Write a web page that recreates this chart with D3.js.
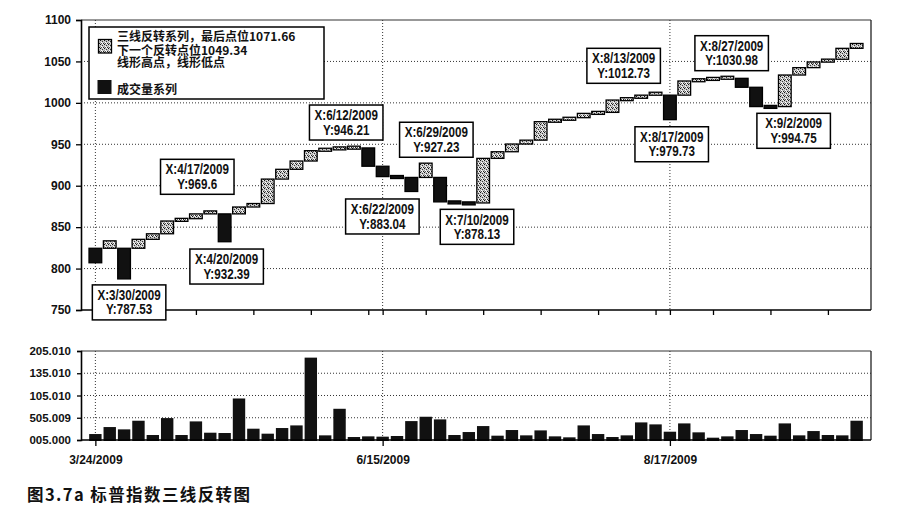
<!DOCTYPE html>
<html><head><meta charset="utf-8">
<script src="https://cdn.jsdelivr.net/npm/d3@7"></script>
<style>body{margin:0;background:#fff}svg{display:block}</style>
</head><body>
<svg id="c" width="899" height="511"></svg>
<script>
// ---------- data ----------
const lines = d3.range(54); // three-line-break line numbers (categories)
const opens = [824.5,824.5,824.5,824.5,835.3,842,857.4,860.2,866,866,
  866,874.3,878.5,908,919.8,929.8,942.3,944.5,945.6,945.6,
  923.5,911,910,910,910,880.5,879.2,879.2,933,941,
  950.3,955,977.3,979.5,982.1,987.3,988.5,1003.4,1005.5,1009.3,
  1009.3,1009.3,1026.4,1028.2,1029.6,1029.6,1018.8,995.5,995.5,1033.6,
  1042.5,1049.34,1052.6,1065.8];
const closes = [807,833.5,787.53,835.3,842,857.4,860.2,866,869.6,832.39,
  874.3,878.5,908,919.8,929.8,942.3,944.5,945.6,946.21,923.5,
  911,910,893.04,927.23,880.5,879.2,878.13,933,941,950.3,
  955,977.3,979.5,982.1,987.3,988.5,1003.4,1005.5,1009.3,1012.73,
  979.73,1026.4,1028.2,1029.6,1030.98,1018.8,995.5,994.75,1033.6,1042.5,
  1049.34,1052.6,1065.8,1071.66];
const volume = [18400,34100,28900,48300,16200,54250,16200,46800,21400,20700,
  98300,30400,19200,31900,37800,190100,15450,75150,11700,13200,
  12500,14000,47500,57250,51300,16200,22900,36300,14700,27400,
  15450,26600,13200,11000,37800,18400,11700,15450,44550,40100,
  23650,42300,22200,10200,13200,27400,18400,14700,42300,15450,
  25100,16200,15450,48300];
const priceTicks = [750,800,850,900,950,1000,1050,1100];
const volTickValues = [5000,55009,105010,155010,205010];
const volTickLabels = ['005.000','505.009','105.010','135.010','205.010'];
const dateTickIdx = [0,20,40];
const dateTickLabels = ['3/24/2009','6/15/2009','8/17/2009'];
const minorTickIdx = [0,3,7,11,15,19,20,23,27,31,35,39,40,43,47,51];
const calloutIdx = [2,8,9,18,22,23,26,39,40,44,47];
const calloutDates = ['3/30/2009','4/17/2009','4/20/2009','6/12/2009','6/22/2009','6/29/2009','7/10/2009','8/13/2009','8/17/2009','8/27/2009','9/2/2009'];
const calloutTexts = ['787.53','969.6','932.39','946.21','883.04','927.23','878.13','1012.73','979.73','1030.98','994.75'];
const legendLines = ['三线反转系列，最后点位1071.66','下一个反转点位1049.34','线形高点，线形低点'];
const legendVolume = '成交量系列';
const caption = '图3.7a 标普指数三线反转图';

// ---------- layout (not data) ----------
const calloutPlace = [[5,6],[-13,-16.6],[2,7.3],[-7.7,-7.4],[-29,7.5],[10.6,-5.9],[8.2,5.5],[-31.9,-9],[1.8,7.1],[4.3,-6.5],[23.2,6.1]];
const L = 81, R = 871;
const main = {top:20, bottom:310};
const vol = {top:351, bottom:440};

const svg = d3.select('#c');
const defs = svg.append('defs');
const pat = defs.append('pattern').attr('id','hatch').attr('patternUnits','userSpaceOnUse')
  .attr('width',4).attr('height',4);
pat.append('rect').attr('width',4).attr('height',4).attr('fill','#c8c8c8');
[[0,0,'#111'],[2,1,'#333'],[1,2,'#fff'],[3,3,'#222'],[3,0,'#eee'],[1,3,'#555'],[0,2,'#999'],[2,3,'#fff']].forEach(p=>
  pat.append('rect').attr('x',p[0]).attr('y',p[1]).attr('width',1).attr('height',1).attr('fill',p[2]));

const x = d3.scalePoint().domain(lines).range([L,R]).padding(1);
const y = d3.scaleLinear().domain([750,1100]).range([main.bottom, main.top]);
const yv = d3.scaleLinear().domain([5000,205010]).range([vol.bottom, vol.top]);

const SANS = '"Liberation Sans",Arial,sans-serif';
const CJK = '"Noto Sans CJK SC","Liberation Sans",sans-serif';

const dotted = g => g.attr('stroke','#333').attr('stroke-width',1).attr('stroke-dasharray','1,2').attr('fill','none');
const narrow = (sel, k) => sel.each(function(){ const w=this.getComputedTextLength(); d3.select(this).attr('textLength',w*k).attr('lengthAdjust','spacingAndGlyphs'); });

// ---------- main chart ----------
const gm = svg.append('g');
gm.append('g').selectAll('line').data(priceTicks.filter(v=>v>750 && v<1100)).join('line')
  .attr('x1',L).attr('x2',R).attr('y1',d=>y(d)).attr('y2',d=>y(d)).call(dotted);
gm.append('g').selectAll('line').data(dateTickIdx).join('line')
  .attr('x1',d=>x(d)).attr('x2',d=>x(d)).attr('y1',main.top).attr('y2',main.bottom).call(dotted);

const bw = 12.7;
gm.append('g').selectAll('rect').data(lines).join('rect')
  .attr('x',i=>x(i)-bw/2)
  .attr('y',i=>{const t=y(Math.max(opens[i],closes[i])), b=y(Math.min(opens[i],closes[i])); return b-t<3 ? (t+b)/2-1.5 : t;})
  .attr('width',bw)
  .attr('height',i=>Math.max(3, Math.abs(y(opens[i])-y(closes[i]))))
  .attr('fill',i=>closes[i]>opens[i] ? 'url(#hatch)' : '#111')
  .attr('stroke','#000').attr('stroke-width',1.3);

// axes / frame
gm.append('line').attr('x1',L).attr('x2',R).attr('y1',main.top).attr('y2',main.top).attr('stroke','#333').attr('stroke-width',1.2);
gm.append('line').attr('x1',R).attr('x2',R).attr('y1',main.top).attr('y2',main.bottom).attr('stroke','#222').attr('stroke-width',1.3);
const yAxis = gm.append('g').attr('transform',`translate(${L},0)`)
  .call(d3.axisLeft(y).tickValues(priceTicks).tickSize(5).tickPadding(5).tickFormat(d3.format('d')));
yAxis.select('.domain').attr('stroke','#000').attr('stroke-width',1.6);
yAxis.selectAll('.tick line').attr('stroke','#000').attr('stroke-width',1.3);
yAxis.selectAll('text').attr('font-family',SANS).attr('font-weight','bold').attr('font-size',12).attr('fill','#111');
const xAxis = gm.append('g').attr('transform',`translate(0,${main.bottom})`)
  .call(d3.axisBottom(x).tickValues(minorTickIdx).tickSize(5).tickFormat(''));
xAxis.select('.domain').attr('stroke','#000').attr('stroke-width',1.6).attr('d',`M${L},0H${R}`);
xAxis.selectAll('.tick line').attr('stroke','#000').attr('stroke-width',1.3);

// legend
const lg = gm.append('g');
lg.append('rect').attr('x',89).attr('y',27).attr('width',235).attr('height',72)
  .attr('fill','#fff').attr('stroke','#000').attr('stroke-width',1.5);
lg.append('rect').attr('x',98.5).attr('y',39.5).attr('width',13).attr('height',13.5)
  .attr('fill','url(#hatch)').attr('stroke','#000').attr('stroke-width',1.3);
lg.append('rect').attr('x',97.5).attr('y',80).attr('width',14).attr('height',14).attr('fill','#111');
lg.selectAll('text.l').data(legendLines).join('text').attr('class','l')
  .attr('x',117).attr('y',(d,i)=>[40.8,54.5,67][i]).text(d=>d)
  .attr('font-family',CJK).attr('font-weight','bold').attr('font-size',12).attr('fill','#111');
lg.append('text').attr('x',117).attr('y',93.5).text(legendVolume)
  .attr('font-family',CJK).attr('font-weight','bold').attr('font-size',12).attr('fill','#111');

// callouts
const cw = 73.5, ch = 35;
const cg = gm.append('g').selectAll('g').data(calloutIdx).join('g')
  .attr('transform',(d,k)=>{
    const [dx,gap] = calloutPlace[k];
    const py = y(closes[d]);
    const top = gap>0 ? py+gap : py+gap-ch;
    return `translate(${x(d)+dx-cw/2},${top})`;
  });
cg.append('rect').attr('width',cw).attr('height',ch).attr('fill','#fff').attr('stroke','#000').attr('stroke-width',1.5);
cg.append('text').attr('x',cw/2).attr('y',15.2).attr('text-anchor','middle').text((d,k)=>'X:'+calloutDates[k])
  .attr('font-family',SANS).attr('font-weight','bold').attr('font-size',14).attr('fill','#111').call(narrow,0.83);
cg.append('text').attr('x',cw/2).attr('y',29.6).attr('text-anchor','middle').text((d,k)=>'Y:'+calloutTexts[k])
  .attr('font-family',SANS).attr('font-weight','bold').attr('font-size',14).attr('fill','#111').call(narrow,0.83);

// ---------- volume chart ----------
const gv = svg.append('g');
gv.append('g').selectAll('line').data(volTickValues.slice(1,4)).join('line')
  .attr('x1',L).attr('x2',R).attr('y1',d=>yv(d)).attr('y2',d=>yv(d)).call(dotted);
gv.append('g').selectAll('line').data(dateTickIdx).join('line')
  .attr('x1',d=>x(d)).attr('x2',d=>x(d)).attr('y1',vol.top).attr('y2',vol.bottom).call(dotted);
const vbw = 12.4;
gv.append('g').selectAll('rect').data(lines).join('rect')
  .attr('x',i=>x(i)-vbw/2).attr('y',i=>yv(volume[i])).attr('width',vbw)
  .attr('height',i=>vol.bottom-yv(volume[i])+1).attr('fill','#111');
gv.append('line').attr('x1',L).attr('x2',R).attr('y1',vol.top).attr('y2',vol.top).attr('stroke','#333').attr('stroke-width',1.2);
gv.append('line').attr('x1',R).attr('x2',R).attr('y1',vol.top).attr('y2',vol.bottom).attr('stroke','#222').attr('stroke-width',1.3);
const vAxis = gv.append('g').attr('transform',`translate(${L},0)`)
  .call(d3.axisLeft(yv).tickValues(volTickValues).tickSize(4).tickPadding(6).tickFormat((d,i)=>volTickLabels[i]));
vAxis.select('.domain').attr('stroke','#000').attr('stroke-width',1.6);
vAxis.selectAll('.tick line').attr('stroke','#000').attr('stroke-width',1.3);
vAxis.selectAll('text').attr('font-family',SANS).attr('font-weight','bold').attr('font-size',11.5).attr('fill','#111');
const dAxis = gv.append('g').attr('transform',`translate(0,${vol.bottom})`)
  .call(d3.axisBottom(x).tickValues(dateTickIdx).tickSize(6).tickPadding(9).tickFormat((d,i)=>dateTickLabels[i]));
dAxis.select('.domain').attr('stroke','#000').attr('stroke-width',1.6).attr('d',`M${L},0H${R}`);
dAxis.selectAll('.tick line').attr('stroke','#000').attr('stroke-width',1.3);
dAxis.selectAll('text').attr('font-family',SANS).attr('font-weight','bold').attr('font-size',12).attr('fill','#111');

// caption
svg.append('text').attr('x',27).attr('y',501).text(caption)
  .attr('font-family',CJK).attr('font-weight','bold').attr('font-size',16.5).attr('fill','#111')
  .attr('textLength',223).attr('lengthAdjust','spacing');
</script>
</body></html>
